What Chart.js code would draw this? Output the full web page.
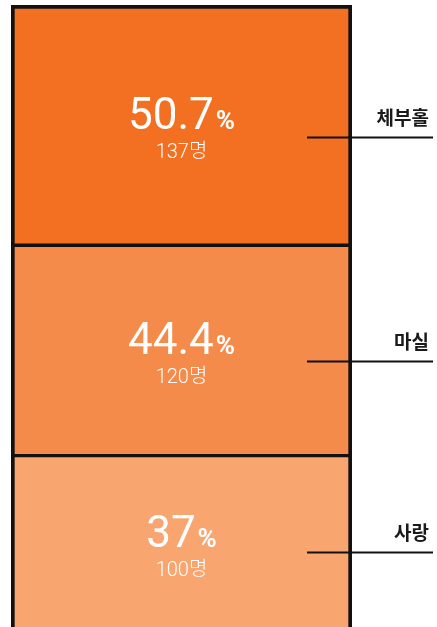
<!DOCTYPE html>
<html lang="ko">
<head>
<meta charset="utf-8">
<script src="https://cdn.jsdelivr.net/npm/chart.js@4/dist/chart.umd.min.js"></script>
<style>
  html, body { margin: 0; padding: 0; background: #fff; overflow: hidden; }
  #wrap { width: 437px; height: 631px; }
</style>
</head>
<body>
<div id="wrap"><canvas id="chart"></canvas></div>
<script>
// stacked from the bottom up
const places = ['사랑', '마실', '체부홀'];
const counts = [100, 120, 137];
const percents = ['37', '44.4', '50.7'];
const fills = ['#f8a570', '#f58b4a', '#f37022'];

const total = counts.reduce((a, b) => a + b, 0);

// black outline, outer edges thicker so inner seams match them
function outline(i) {
    const last = places.length - 1;
    return { left: 4, right: 4, top: i === last ? 4 : 2, bottom: i === 0 ? 4 : 2 };
}

const BIG_FONT = '400 44px Roboto, "Noto Sans CJK KR", sans-serif';
const PCT_FONT = '700 26px Roboto, "Noto Sans CJK KR", sans-serif';

const segmentLabels = {
    id: 'segmentLabels',
    afterDatasetsDraw(chart) {
        const ctx = chart.ctx;
        const W = chart.width;
        chart.data.datasets.forEach((ds, i) => {
            const bar = chart.getDatasetMeta(i).data[0];
            if (!bar) return;
            const top = Math.min(bar.y, bar.base);
            const bottom = Math.max(bar.y, bar.base);
            const cx = bar.x;
            const cy = (top + bottom) / 2;
            const right = bar.x + bar.width / 2;

            ctx.save();
            ctx.fillStyle = '#fff';
            ctx.textBaseline = 'alphabetic';

            // big percentage with a smaller bold % sign
            const big = percents[i];
            ctx.font = BIG_FONT;
            const wBig = ctx.measureText(big).width;
            ctx.font = PCT_FONT;
            const wPct = ctx.measureText('%').width;
            const x0 = cx - (wBig + 2 + wPct) / 2;
            ctx.textAlign = 'left';
            ctx.font = BIG_FONT;
            ctx.fillText(big, x0, cy + 4);
            ctx.font = PCT_FONT;
            ctx.fillText('%', x0 + wBig + 2, cy + 4);

            // head count
            ctx.textAlign = 'center';
            ctx.font = '300 20px Roboto, "Noto Sans CJK KR", sans-serif';
            ctx.fillText(counts[i] + '명', cx, cy + 33);

            // leader line and place name on the right
            const ly = Math.round(top + (bottom - top) * 0.55) + 0.5;
            ctx.strokeStyle = '#111';
            ctx.lineWidth = 2;
            ctx.beginPath();
            ctx.moveTo(right - 45, ly);
            ctx.lineTo(W - 4, ly);
            ctx.stroke();

            ctx.fillStyle = '#1a1a1a';
            ctx.textAlign = 'right';
            ctx.textBaseline = 'middle';
            ctx.font = '700 19px "Noto Sans CJK KR", sans-serif';
            ctx.fillText(places[i], W - 8, ly - 20);
            ctx.restore();
        });
    }
};

new Chart(document.getElementById('chart'), {
    type: 'bar',
    data: {
        labels: [''],
        datasets: places.map((name, i) => ({
            label: name,
            data: [counts[i]],
            backgroundColor: fills[i],
            borderColor: '#111',
            borderWidth: outline(i),
            borderSkipped: false,
            barPercentage: 1,
            categoryPercentage: 1
        }))
    },
    options: {
        responsive: true,
        maintainAspectRatio: false,
        animation: false,
        layout: { padding: { left: 11, right: 85, top: 5, bottom: 0 } },
        plugins: { legend: { display: false }, tooltip: { enabled: false } },
        scales: {
            x: { stacked: true, display: false },
            y: { stacked: true, display: false, min: 0, max: total }
        }
    },
    plugins: [segmentLabels]
});
</script>
</body>
</html>
